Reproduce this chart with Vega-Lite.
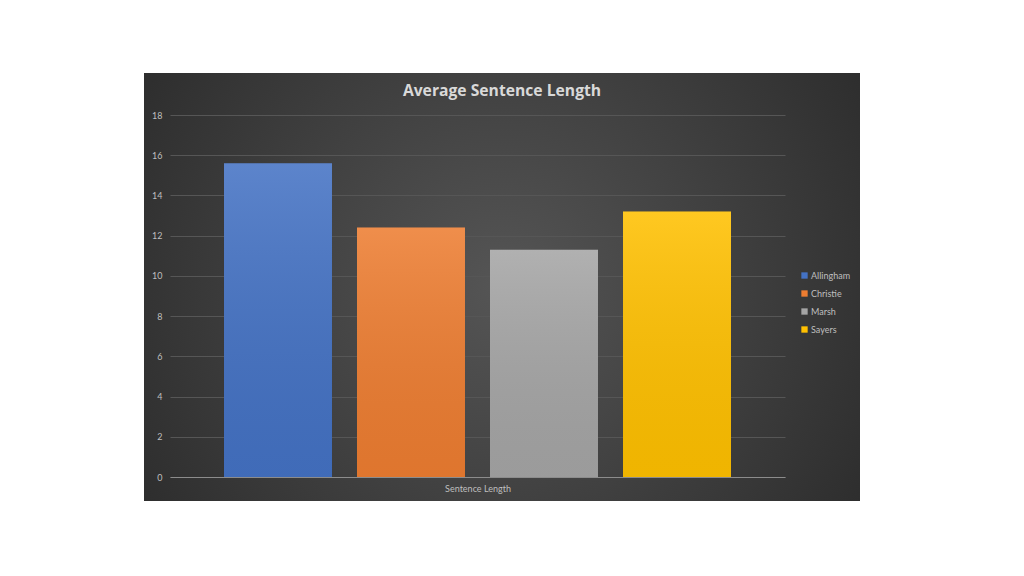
{
  "$schema": "https://vega.github.io/schema/vega-lite/v6.json",
  "width": 716,
  "height": 428,
  "autosize": {"type": "none"},
  "padding": {"left": 144, "top": 73, "right": 164, "bottom": 75},
  "background": "white",
  "title": {
    "text": "Average Sentence Length",
    "font": "Open Sans",
    "fontSize": 15.7,
    "fontWeight": "bold",
    "color": "#d9d9d9",
    "offset": -39,
    "frame": "group",
    "anchor": "middle",
    "baseline": "alphabetic",
    "limit": 0
  },
  "data": {
    "values": [
      {"category": "Sentence Length", "author": "Allingham", "value": 15.6},
      {"category": "Sentence Length", "author": "Christie", "value": 12.4},
      {"category": "Sentence Length", "author": "Marsh", "value": 11.3},
      {"category": "Sentence Length", "author": "Sayers", "value": 13.2}
    ]
  },
  "encoding": {
    "x": {
      "field": "author",
      "type": "nominal",
      "sort": null,
      "scale": {"range": [26, 641], "paddingInner": 0.188, "paddingOuter": 0.406},
      "axis": {
        "title": "Sentence Length",
        "labels": false,
        "ticks": false,
        "tickSize": 0,
        "offset": -24,
        "domainColor": "#8c8c8c",
        "domainWidth": 1.2,
        "titleFont": "Lato",
        "titleFontSize": 9,
        "titleFontWeight": "normal",
        "titleColor": "#bfbfbf",
        "titlePadding": 7,
        "grid": false
      }
    },
    "y": {
      "field": "value",
      "type": "quantitative",
      "scale": {"domain": [0, 18], "range": [404, 42], "nice": false},
      "axis": {
        "title": null,
        "values": [0, 2, 4, 6, 8, 10, 12, 14, 16, 18],
        "offset": -26,
        "domain": false,
        "ticks": false,
        "tickSize": 0,
        "labelPadding": 8,
        "labelFont": "Lato",
        "labelFontSize": 9,
        "labelColor": "#bfbfbf",
        "grid": true,
        "gridColor": "#565656",
        "gridWidth": 1
      }
    }
  },
  "layer": [
    {
      "mark": {"type": "bar"},
      "encoding": {
        "color": {
          "field": "author",
          "type": "nominal",
          "sort": null,
          "scale": {
            "domain": ["Allingham", "Christie", "Marsh", "Sayers"],
            "range": ["#4472C4", "#ED7D31", "#A5A5A5", "#FFC000"]
          },
          "legend": {
            "title": null,
            "orient": "none",
            "legendX": 656,
            "legendY": 198,
            "symbolType": "square",
            "symbolSize": 40,
            "symbolStrokeWidth": 0,
            "labelFont": "Lato",
            "labelFontSize": 9,
            "labelColor": "#bfbfbf",
            "labelOffset": 2,
            "rowPadding": 8
          }
        }
      }
    },
    {
      "mark": {
        "type": "bar",
        "fill": {
          "gradient": "linear",
          "x1": 0, "y1": 0, "x2": 0, "y2": 1,
          "stops": [
            {"offset": 0, "color": "rgba(255,255,255,0.13)"},
            {"offset": 1, "color": "rgba(0,0,0,0.06)"}
          ]
        }
      }
    }
  ],
  "config": {
    "view": {
      "stroke": null,
      "fill": {
        "gradient": "radial",
        "x1": 0.5, "y1": 0.5, "r1": 0,
        "x2": 0.5, "y2": 0.5, "r2": 0.7,
        "stops": [
          {"offset": 0, "color": "#555555"},
          {"offset": 1, "color": "#262626"}
        ]
      }
    }
  }
}
